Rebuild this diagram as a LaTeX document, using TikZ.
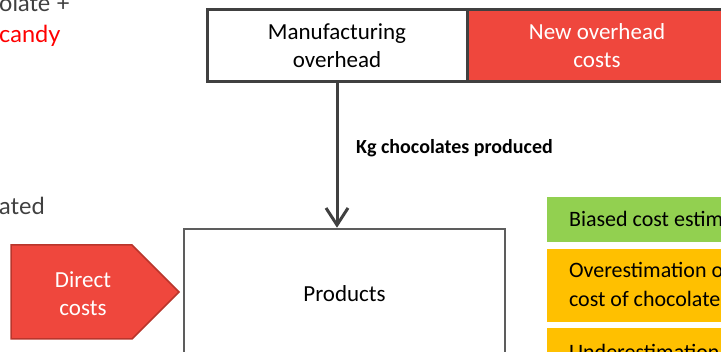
\documentclass[tikz,border=0pt]{standalone}
\usepackage{fontspec}
\setmainfont{Carlito}
\newfontfamily\notefont{Lato}
\usetikzlibrary{arrows.meta}
\definecolor{linegray}{HTML}{404040}
\definecolor{costred}{HTML}{EF473D}
\definecolor{costredline}{HTML}{B9362C}
\definecolor{biasgreen}{HTML}{92D050}
\definecolor{biasorange}{HTML}{FFC000}
\tikzset{
  poolbox/.style={draw=linegray, line width=3pt, align=center, inner sep=0pt,
    font=\fontsize{23}{28}\selectfont},
  redbox/.style={poolbox, fill=costred, text=white},
  flow/.style={draw=linegray, line width=3pt,
    -{Straight Barb[length=17pt,width=22pt,line width=3pt]}},
  flowlabel/.style={font=\bfseries\fontsize{20}{24}\selectfont, text=black},
  effect/.style={inner sep=0pt, outer sep=0pt},
  effecttext/.style={anchor=base west, align=left, text=black,
    font=\fontsize{22}{29}\selectfont},
  note/.style={anchor=base west, inner sep=0pt, font=\notefont\fontsize{23.5}{26}\selectfont}
}
\begin{document}
\begin{tikzpicture}[x=1pt, y=-1pt]
\useasboundingbox (0,0) rectangle (721,352);
\clip (0,0) rectangle (721,352);

% side notes
\node[note, text=linegray] (n1) at (-1,12) {olate +};
\node[note, text=red] (n2) at (-1,43) {candy};
\node[note, text=linegray] (n3) at (-1,215) {ated};

% cost pools
\node[poolbox, fill=white, minimum width=260pt, minimum height=72pt] (mfg) at (337,46)
  {Manufacturing\\overhead};
\node[redbox, minimum width=260pt, minimum height=72pt] (newoh) at (597,46)
  {New overhead\\costs};

% cost object
\node[poolbox, draw=linegray!85, line width=2.5pt, fill=white,
  minimum width=321pt, minimum height=130pt] (prod) at (344.5,294) {Products};

% direct costs pointer
\coordinate (dc1) at (11,245);
\coordinate (dc2) at (132,245);
\coordinate (dc3) at (179,292);
\coordinate (dc4) at (132,339);
\coordinate (dc5) at (11,339);
\fill[costred, draw=costredline, line width=1.5pt]
  (dc1) -- (dc2) -- (dc3) -- (dc4) -- (dc5) -- cycle;
\node[text=white, align=center, font=\fontsize{23}{28}\selectfont] (dc) at (83,294)
  {Direct\\costs};

% allocation
\draw[flow] (mfg.south) -- (mfg.south |- prod.north);
\node[flowlabel] (driver) at (454.5,148) {Kg chocolates produced};

% effects
\fill[biasgreen] (547,197) rectangle (740,242);
\node[effect] (e1) at (643,219.5) {};
\fill[biasorange] (547,249) rectangle (740,322);
\node[effect] (e2) at (643,285.5) {};
\fill[biasorange] (547,328) rectangle (740,400);
\node[effect] (e3) at (643,364) {};
\node[effecttext] (t1) at (565.5,227) {Biased cost estim};
\node[effecttext] (t2) at (565.5,278) {Overestimation o};
\node[effecttext] (t3) at (565.5,307) {cost of chocolate};
\node[effecttext] (t4) at (565.5,360) {Underestimation};
\end{tikzpicture}
\end{document}
